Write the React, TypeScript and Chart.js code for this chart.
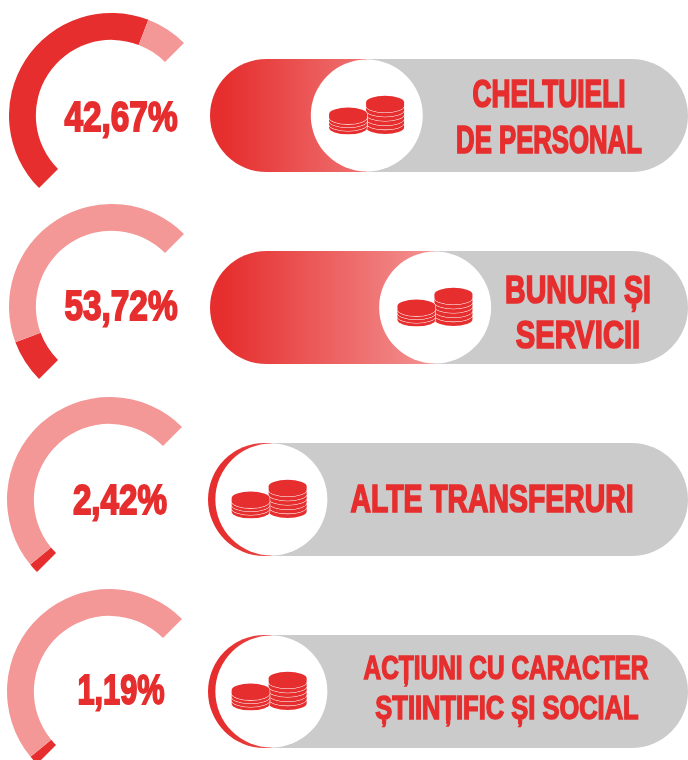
import React, { useEffect, useLayoutEffect, useRef } from "react";
import { Chart, registerables } from "chart.js";

Chart.register(...registerables);

const RED = "#e62e2e";
const LIGHT = "#f39897";
const GRAY = "#cbcbcb";

const percentLabels = ["42,67%", "53,72%", "2,42%", "1,19%"];
const gaugeFilled = [86.7, 13.7, 3.1, 3.0];
const barFilled = [32.8, 47.1, 13.2, 13.2];
const rowLabels = [
  ["CHELTUIELI", "DE PERSONAL"],
  ["BUNURI ȘI", "SERVICII"],
  ["ALTE TRANSFERURI"],
  ["ACȚIUNI CU CARACTER", "ȘTIINȚIFIC ȘI SOCIAL"],
];

const layouts = [
  { gx: 111.7, gy: 115, barX: 210, barY: 59, barW: 478, coinDx: 0, pct: { x: 120.5, y: 116.5, w: 113, cap: 33 },
    text: [{ x: 549, y: 95, w: 153, cap: 29 }, { x: 549, y: 140.5, w: 186, cap: 29 }] },
  { gx: 111.7, gy: 306.7, barX: 210, barY: 251, barW: 478, coinDx: 0, pct: { x: 120.5, y: 306, w: 113, cap: 33 },
    text: [{ x: 578, y: 291, w: 146, cap: 29 }, { x: 578, y: 336, w: 124, cap: 29 }] },
  { gx: 109.5, gy: 499.5, barX: 208, barY: 443, barW: 480, coinDx: -2, pct: { x: 120, y: 500, w: 94, cap: 33 },
    text: [{ x: 491.5, y: 500, w: 283, cap: 29 }] },
  { gx: 109.5, gy: 691.5, barX: 208, barY: 635, barW: 480, coinDx: -2, pct: { x: 120.5, y: 690, w: 87, cap: 33 },
    text: [{ x: 505.5, y: 668.3, w: 285, cap: 25 }, { x: 506.5, y: 708.3, w: 263, cap: 25 }] },
];

function drawStack(ctx: CanvasRenderingContext2D, cx: number, topY: number, n: number, step: number) {
  const rx = 19, ry = 6.5, h = 3.6;
  for (let i = 0; i < n; i++) {
    const y = topY + (n - 1 - i) * step;
    ctx.beginPath();
    ctx.ellipse(cx, y + h, rx, ry, 0, 0, Math.PI);
    ctx.ellipse(cx, y, rx, ry, 0, Math.PI, 2 * Math.PI);
    ctx.closePath();
    ctx.lineWidth = 1.1;
    ctx.strokeStyle = "#ffffff";
    ctx.stroke();
    ctx.fillStyle = RED;
    ctx.fill();
  }
}

function makeCoinPlugin(value: number, coinDx: number) {
  return {
    id: "coinBadge",
    afterDatasetsDraw(chart: any) {
      const x = chart.scales.x.getPixelForValue(value);
      const y = chart.getDatasetMeta(0).data[0].y;
      const { ctx } = chart;
      ctx.save();
      ctx.fillStyle = "#ffffff";
      ctx.beginPath();
      ctx.arc(x, y, 56, 0, Math.PI * 2);
      ctx.fill();
      const cx = x + coinDx;
      drawStack(ctx, cx + 18.3, y - 13.2, 6, 4.3);
      drawStack(ctx, cx - 18.7, y - 1.5, 4, 3.4);
      ctx.restore();
    },
  };
}

function Gauge({ filled, left, top }: { filled: number; left: number; top: number }) {
  const ref = useRef<HTMLCanvasElement>(null);
  useEffect(() => {
    const chart = new Chart(ref.current!, {
      type: "doughnut",
      data: {
        labels: ["filled", "rest"],
        datasets: [{ data: [filled, 100 - filled], backgroundColor: [RED, LIGHT], borderWidth: 0 }],
      },
      options: {
        responsive: false,
        animation: false,
        rotation: -135,
        circumference: 180,
        cutout: "73.8%",
        layout: { padding: 0 },
        events: [],
        plugins: { legend: { display: false }, tooltip: { enabled: false } },
      },
    });
    return () => chart.destroy();
  }, [filled]);
  return <canvas ref={ref} width={175} height={175} style={{ position: "absolute", left, top, width: 175, height: 175 }} />;
}

function PillBar({ value, left, top, width, coinDx }: { value: number; left: number; top: number; width: number; coinDx: number }) {
  const ref = useRef<HTMLCanvasElement>(null);
  useEffect(() => {
    const r = 56.5;
    // The red bar is at least as long as the pill is tall, so its left end stays a full half circle.
    const redEnd = Math.max(value, 24);
    const chart = new Chart(ref.current!, {
      type: "bar",
      data: {
        labels: ["row"],
        datasets: [
          {
            data: [[0, redEnd]],
            backgroundColor: (c: any) => {
              const g = c.chart.ctx.createLinearGradient(0, 0, 235, 0);
              g.addColorStop(0, RED);
              g.addColorStop(0.06, RED);
              g.addColorStop(1, LIGHT);
              return g;
            },
            borderRadius: { topLeft: r, bottomLeft: r, topRight: 0, bottomRight: 0 },
            borderSkipped: false,
            inflateAmount: 0,
            order: 2,
          } as any,
          {
            data: [[value, 100]],
            backgroundColor: GRAY,
            borderRadius: { topLeft: 0, bottomLeft: 0, topRight: r, bottomRight: r },
            borderSkipped: false,
            inflateAmount: 0,
            order: 1,
          } as any,
        ],
      },
      options: {
        indexAxis: "y",
        responsive: false,
        animation: false,
        layout: { padding: 0 },
        events: [],
        datasets: { bar: { grouped: false, categoryPercentage: 1, barPercentage: 1 } },
        scales: {
          x: { display: false, min: 0, max: 100 },
          y: { display: false },
        },
        plugins: { legend: { display: false }, tooltip: { enabled: false } },
      } as any,
      plugins: [makeCoinPlugin(value, coinDx)],
    });
    return () => chart.destroy();
  }, [value, coinDx]);
  return <canvas ref={ref} width={width} height={113} style={{ position: "absolute", left, top, width, height: 113 }} />;
}

function FitText({ text, x, y, w, cap }: { text: string; x: number; y: number; w: number; cap: number }) {
  const ref = useRef<HTMLSpanElement>(null);
  useLayoutEffect(() => {
    const el = ref.current!;
    const sx = w / el.offsetWidth;
    el.style.transform = `translate(-50%, -50%) scaleX(${sx})`;
  }, [text, w]);
  const stroke = cap / 17;
  const fontSize = (cap - stroke) / 0.72;
  return (
    <span
      ref={ref}
      style={{
        position: "absolute",
        left: x,
        top: y,
        fontFamily: '"Liberation Sans Narrow", "Liberation Sans", sans-serif',
        fontWeight: 700,
        fontSize,
        lineHeight: 1,
        whiteSpace: "nowrap",
        color: RED,
        WebkitTextStroke: stroke + "px " + RED,
        transform: "translate(-50%, -50%)",
      }}
    >
      {text}
    </span>
  );
}

export default function App() {
  return (
    <div style={{ position: "absolute", left: 0, top: 0, width: 688, height: 760, overflow: "hidden", background: "#fff" }}>
      {layouts.map((l, i) => (
        <React.Fragment key={i}>
          <Gauge filled={gaugeFilled[i]} left={l.gx - 102.5} top={l.gy - 102.5} />
          <PillBar value={barFilled[i]} left={l.barX} top={l.barY} width={l.barW} coinDx={l.coinDx} />
          <FitText text={percentLabels[i]} {...l.pct} />
          {rowLabels[i].map((line, j) => (
            <FitText key={j} text={line} {...l.text[j]} />
          ))}
        </React.Fragment>
      ))}
    </div>
  );
}
